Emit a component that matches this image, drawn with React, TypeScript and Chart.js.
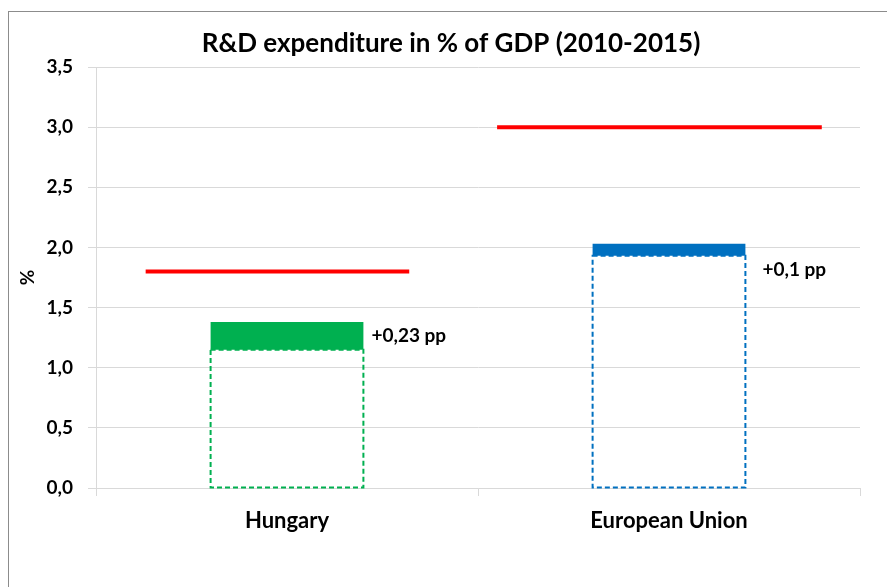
import React, { useEffect, useRef } from "react";
import { Chart, registerables } from "chart.js";

Chart.register(...registerables);

const titleText = "R&D expenditure in % of GDP (2010-2015)";
const yAxisTitle = "%";
const categories = ["Hungary", "European Union"];
const startValues = [1.15, 1.93];
const endValues = [1.38, 2.03];
const increaseLabels = ["+0,23 pp", "+0,1 pp"];
const targetValues = [1.8, 3.0];
const targetStartX = [-0.37, 0.55];
const targetEndX = [0.32, 1.4];
const barColors = ["#00B050", "#0070C0"];
const targetColor = "#FF0000";
const yMin = 0;
const yMax = 3.5;
const yStep = 0.5;

const FONT = "Lato, 'Open Sans', sans-serif";

const overlayPlugin = {
  id: "overlay",
  afterDatasetsDraw(chart: any) {
    const ctx = chart.ctx;
    const baseMeta = chart.getDatasetMeta(0);
    ctx.save();
    baseMeta.data.forEach((el: any, i: number) => {
      const w = el.width;
      const left = el.x - w / 2;
      const top = Math.min(el.y, el.base);
      const h = Math.abs(el.base - el.y);
      ctx.setLineDash([5, 3]);
      ctx.lineWidth = 2;
      ctx.strokeStyle = barColors[i];
      ctx.strokeRect(left, top, w, h);
    });
    ctx.setLineDash([]);
    const incMeta = chart.getDatasetMeta(1);
    const dx = [8, 17];
    const dy = [0, 20];
    ctx.fillStyle = "#000";
    ctx.font = `bold 19px ${FONT}`;
    ctx.textAlign = "left";
    ctx.textBaseline = "middle";
    incMeta.data.forEach((el: any, i: number) => {
      const x = el.x + el.width / 2 + dx[i];
      const y = (el.y + el.base) / 2 + dy[i];
      ctx.fillText(increaseLabels[i], x, y);
    });
    ctx.restore();
  },
  afterDraw(chart: any) {
    const ctx = chart.ctx;
    ctx.save();
    ctx.fillStyle = "#000";
    ctx.font = `bold 26px ${FONT}`;
    ctx.textAlign = "center";
    ctx.textBaseline = "middle";
    ctx.fillText(titleText, 451, 44);
    ctx.restore();
  },
};

export default function App() {
  const ref = useRef<HTMLCanvasElement | null>(null);

  useEffect(() => {
    if (!ref.current) return;
    const lineSets = targetValues.map((v, i) => ({
      type: "line" as const,
      label: `target-${categories[i]}`,
      xAxisID: "x2",
      yAxisID: "y",
      data: [
        { x: targetStartX[i], y: v },
        { x: targetEndX[i], y: v },
      ],
      borderColor: targetColor,
      borderWidth: 4,
      borderCapStyle: "butt" as const,
      pointRadius: 0,
      fill: false,
      order: 0,
    }));
    const chart = new Chart(ref.current, {
      type: "bar",
      data: {
        labels: categories,
        datasets: [
          {
            label: "2010",
            data: startValues,
            backgroundColor: "rgba(0,0,0,0)",
            borderWidth: 0,
            grouped: false,
            barPercentage: 0.4,
            categoryPercentage: 1,
            xAxisID: "x",
            order: 2,
          } as any,
          {
            label: "increase",
            data: startValues.map((s, i) => [s, endValues[i]]),
            backgroundColor: barColors,
            borderWidth: 0,
            grouped: false,
            barPercentage: 0.4,
            categoryPercentage: 1,
            xAxisID: "x",
            order: 1,
          } as any,
          ...(lineSets as any[]),
        ],
      },
      options: {
        animation: false,
        responsive: false,
        maintainAspectRatio: false,
        layout: { padding: { top: 67, right: 27, left: 0, bottom: 0 } },
        plugins: {
          legend: { display: false },
          tooltip: { enabled: false },
          title: { display: false },
        },
        scales: {
          x: {
            type: "category",
            offset: true,
            grid: {
              offset: true,
              drawOnChartArea: false,
              drawTicks: true,
              tickLength: 8,
              color: "#D9D9D9",
            },
            border: { color: "#D9D9D9" },
            ticks: {
              color: "#000",
              padding: 12,
              font: { family: FONT, size: 22, weight: "bold" },
            },
            afterFit: (s: any) => {
              s.height = 99;
            },
          },
          x2: {
            type: "linear",
            display: false,
            offset: false,
            min: -0.5,
            max: 1.5,
            grid: { offset: false },
          },
          y: {
            min: yMin,
            max: yMax,
            ticks: {
              stepSize: yStep,
              color: "#000",
              padding: 15,
              font: { family: FONT, size: 19, weight: "bold" },
              callback: (v: any) => Number(v).toFixed(1).replace(".", ","),
            },
            grid: {
              color: "#D9D9D9",
              tickLength: 8,
              drawTicks: true,
            },
            border: { color: "#D9D9D9" },
            title: {
              display: true,
              text: yAxisTitle,
              color: "#000",
              padding: { top: 16, bottom: 0 },
              font: { family: FONT, size: 19, weight: "bold" },
            },
            afterFit: (s: any) => {
              s.width = 96;
            },
          },
        } as any,
      },
      plugins: [overlayPlugin],
    });
    return () => chart.destroy();
  }, []);

  return (
    <div
      style={{
        position: "fixed",
        left: 0,
        top: 0,
        width: 887,
        height: 587,
        background: "#fff",
        overflow: "hidden",
      }}
    >
      <div
        style={{
          position: "absolute",
          left: 8,
          top: 11,
          width: 900,
          height: 600,
          borderLeft: "1px solid #8C8C8C",
          borderTop: "1px solid #8C8C8C",
        }}
      />
      <canvas
        ref={ref}
        width={887}
        height={587}
        style={{ position: "absolute", left: 0, top: 0, width: 887, height: 587 }}
      />
    </div>
  );
}
